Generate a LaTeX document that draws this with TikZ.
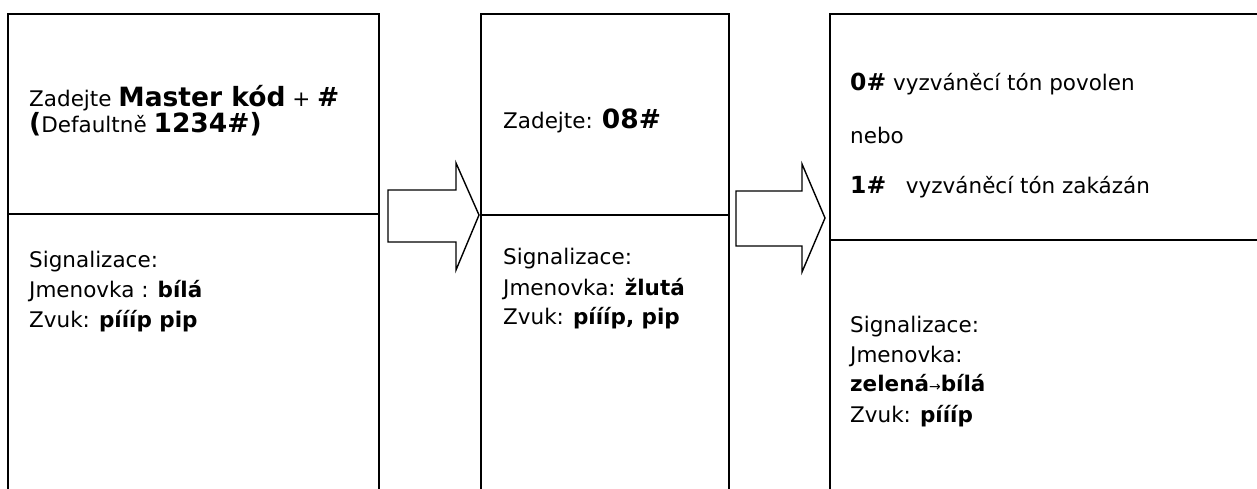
\documentclass[tikz,border=0pt]{standalone}
\usepackage{fontspec}
\setmainfont{DejaVu Sans}
\newcommand{\rg}{\fontsize{21.5}{30}\selectfont}
\newcommand{\bg}{\bfseries\fontsize{26.5}{30}\selectfont}
\newcommand{\bm}{\bfseries\fontsize{23.5}{30}\selectfont}
\begin{document}
\begin{tikzpicture}[x=1pt,y=-1pt,
  box/.style={draw=black,line width=1.4pt},
  blockarrow/.style={draw=black,line width=1.4pt,fill=white,line join=miter},
  txt/.style={anchor=base west,inner sep=0pt,font=\rg}]
\useasboundingbox (0,0) rectangle (1257,488);
\clip (0,0) rectangle (1257,488);
% boxes
\draw[box] (8,14) rectangle (379,520);
\draw[box] (8,214) -- (379,214);
\draw[box] (481,14) rectangle (729,520);
\draw[box] (481,215) -- (729,215);
\draw[box] (830,14) rectangle (1290,520);
\draw[box] (830,240) -- (1290,240);
% block arrows
\coordinate (a1tip) at (479,215);
\coordinate (a2tip) at (825,218);
\draw[blockarrow] (388,190) -- (456,190) -- (456,163) -- (a1tip) -- (456,270) -- (456,242) -- (388,242) -- cycle;
\draw[blockarrow] (736,191) -- (802,191) -- (802,164) -- (a2tip) -- (802,272) -- (802,246) -- (736,246) -- cycle;
% box 1
\node[txt] (b1l1) at (29,106) {Zadejte {\bg Master kód} + {\bg \#}};
\node[txt] (b1l2) at (29,132) {{\bg (}Defaultně {\bg 1234\#)}};
\node[txt] (b1s) at (29,267) {Signalizace:};
\node[txt] (b1j) at (29,297) {Jmenovka : \textbf{bílá}};
\node[txt] (b1z) at (29,327) {Zvuk: \textbf{píííp pip}};
% box 2
\node[txt] (b2l1) at (503,128) {Zadejte: {\bg 08\#}};
\node[txt] (b2s) at (503,264) {Signalizace:};
\node[txt] (b2j) at (503,295) {Jmenovka: \textbf{žlutá}};
\node[txt] (b2z) at (503,324) {Zvuk: \textbf{píííp, pip}};
% box 3
\node[txt] (b3a) at (850,90) {{\bm 0\#} vyzváněcí tón povolen};
\node[txt] (b3n) at (850,143) {nebo};
\node[txt] (b3b) at (850,193) {{\bm 1\#}\hspace{0.6em} vyzváněcí tón zakázán};
\node[txt] (b3s) at (850,332) {Signalizace:};
\node[txt] (b3j) at (850,362) {Jmenovka:};
\node[txt] (b3c) at (850,391) {\textbf{zelená}{\fontsize{14}{20}\selectfont →}\textbf{bílá}};
\node[txt] (b3z) at (850,422) {Zvuk: \textbf{píííp}};
\end{tikzpicture}
\end{document}
